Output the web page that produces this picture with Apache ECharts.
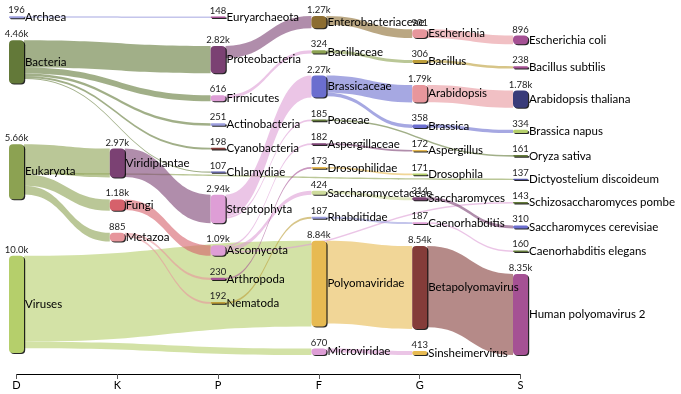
<!DOCTYPE html>
<html>
<head>
<meta charset="utf-8">
<script src="https://cdn.jsdelivr.net/npm/echarts@6/dist/echarts.min.js"></script>
<style>
html,body{margin:0;padding:0;background:#fff;}
#chart{width:681px;height:394px;}
</style>
</head>
<body>
<div id="chart"></div>
<script>
// ---- data ----
const ranks = ['D', 'K', 'P', 'F', 'G', 'S'];

const nodeNames = [
  'Archaea', 'Bacteria', 'Eukaryota', 'Viruses',
  'Fungi', 'Metazoa', 'Viridiplantae',
  'Euryarchaeota', 'Actinobacteria', 'Chlamydiae', 'Cyanobacteria', 'Firmicutes', 'Proteobacteria', 'Ascomycota', 'Arthropoda', 'Nematoda', 'Streptophyta',
  'Bacillaceae', 'Enterobacteriaceae', 'Aspergillaceae', 'Saccharomycetaceae', 'Drosophilidae', 'Rhabditidae', 'Brassicaceae', 'Poaceae', 'Microviridae', 'Polyomaviridae',
  'Bacillus', 'Escherichia', 'Aspergillus', 'Saccharomyces', 'Drosophila', 'Caenorhabditis', 'Arabidopsis', 'Brassica', 'Sinsheimervirus', 'Betapolyomavirus',
  'Bacillus subtilis', 'Escherichia coli', 'Dictyostelium discoideum', 'Saccharomyces cerevisiae', 'Schizosaccharomyces pombe', 'Caenorhabditis elegans', 'Arabidopsis thaliana', 'Brassica napus', 'Oryza sativa', 'Human polyomavirus 2'
];
const nodeRanks = [
  'D', 'D', 'D', 'D',
  'K', 'K', 'K',
  'P', 'P', 'P', 'P', 'P', 'P', 'P', 'P', 'P', 'P',
  'F', 'F', 'F', 'F', 'F', 'F', 'F', 'F', 'F', 'F',
  'G', 'G', 'G', 'G', 'G', 'G', 'G', 'G', 'G', 'G',
  'S', 'S', 'S', 'S', 'S', 'S', 'S', 'S', 'S', 'S'
];
const nodeValues = [
  196, 4460, 5660, 10000,
  1180, 885, 2970,
  148, 251, 107, 198, 616, 2820, 1090, 230, 192, 2940,
  324, 1270, 182, 424, 173, 187, 2270, 185, 670, 8840,
  306, 901, 172, 314, 171, 187, 1790, 358, 413, 8540,
  238, 896, 137, 310, 143, 160, 1780, 334, 161, 8350
];

const linkSources = [
  'Archaea', 'Bacteria', 'Bacteria', 'Bacteria', 'Bacteria', 'Bacteria',
  'Eukaryota', 'Eukaryota', 'Eukaryota', 'Eukaryota', 'Viruses', 'Viruses',
  'Fungi', 'Metazoa', 'Metazoa', 'Viridiplantae',
  'Firmicutes', 'Proteobacteria', 'Ascomycota', 'Ascomycota', 'Ascomycota', 'Arthropoda', 'Nematoda', 'Streptophyta', 'Streptophyta',
  'Bacillaceae', 'Enterobacteriaceae', 'Aspergillaceae', 'Saccharomycetaceae', 'Drosophilidae', 'Rhabditidae', 'Brassicaceae', 'Brassicaceae', 'Poaceae', 'Microviridae', 'Polyomaviridae',
  'Bacillus', 'Escherichia', 'Saccharomyces', 'Caenorhabditis', 'Arabidopsis', 'Brassica', 'Betapolyomavirus'
];
const linkTargets = [
  'Euryarchaeota', 'Actinobacteria', 'Chlamydiae', 'Cyanobacteria', 'Firmicutes', 'Proteobacteria',
  'Fungi', 'Metazoa', 'Viridiplantae', 'Dictyostelium discoideum', 'Microviridae', 'Polyomaviridae',
  'Ascomycota', 'Arthropoda', 'Nematoda', 'Streptophyta',
  'Bacillaceae', 'Enterobacteriaceae', 'Aspergillaceae', 'Saccharomycetaceae', 'Schizosaccharomyces pombe', 'Drosophilidae', 'Rhabditidae', 'Brassicaceae', 'Poaceae',
  'Bacillus', 'Escherichia', 'Aspergillus', 'Saccharomyces', 'Drosophila', 'Caenorhabditis', 'Arabidopsis', 'Brassica', 'Oryza sativa', 'Sinsheimervirus', 'Betapolyomavirus',
  'Bacillus subtilis', 'Escherichia coli', 'Saccharomyces cerevisiae', 'Caenorhabditis elegans', 'Arabidopsis thaliana', 'Brassica napus', 'Human polyomavirus 2'
];
const linkValues = [
  148, 251, 107, 198, 616, 2820,
  1180, 885, 2970, 137, 670, 8840,
  1090, 230, 192, 2940,
  324, 1270, 182, 424, 143, 173, 187, 2270, 185,
  306, 901, 172, 314, 171, 187, 1790, 358, 161, 413, 8540,
  238, 896, 310, 160, 1780, 334, 8350
];

// ---- styles ----
const colorOf = {
  'Archaea': '#9c9ede', 'Bacteria': '#637939', 'Eukaryota': '#8ca252', 'Viruses': '#b5cf6b',
  'Fungi': '#d6616b', 'Metazoa': '#e7969c', 'Viridiplantae': '#7b4173',
  'Euryarchaeota': '#a55194', 'Actinobacteria': '#9c9ede', 'Chlamydiae': '#5254a3', 'Cyanobacteria': '#843c39',
  'Firmicutes': '#de9ed6', 'Proteobacteria': '#7b4173', 'Ascomycota': '#de9ed6', 'Arthropoda': '#a55194',
  'Nematoda': '#bd9e39', 'Streptophyta': '#de9ed6',
  'Bacillaceae': '#8ca252', 'Enterobacteriaceae': '#8c6d31', 'Aspergillaceae': '#7b4173', 'Saccharomycetaceae': '#cedb9c',
  'Drosophilidae': '#e7ba52', 'Rhabditidae': '#9c9ede', 'Brassicaceae': '#6b6ecf', 'Poaceae': '#637939',
  'Microviridae': '#de9ed6', 'Polyomaviridae': '#e7ba52',
  'Bacillus': '#bd9e39', 'Escherichia': '#e7969c', 'Aspergillus': '#e7ba52', 'Saccharomyces': '#7b4173',
  'Drosophila': '#b5cf6b', 'Caenorhabditis': '#de9ed6', 'Arabidopsis': '#e7969c', 'Brassica': '#6b6ecf',
  'Sinsheimervirus': '#e7ba52', 'Betapolyomavirus': '#843c39',
  'Bacillus subtilis': '#a55194', 'Escherichia coli': '#a55194', 'Dictyostelium discoideum': '#5254a3',
  'Saccharomyces cerevisiae': '#6b6ecf', 'Schizosaccharomyces pombe': '#637939', 'Caenorhabditis elegans': '#637939',
  'Arabidopsis thaliana': '#393b79', 'Brassica napus': '#b5cf6b', 'Oryza sativa': '#637939', 'Human polyomavirus 2': '#a55194'
};

const FONT = 'Lato, "Open Sans", sans-serif';
const LEFT = 9, RIGHT = 153, TOP = 16, BOTTOM = 39, NODE_W = 15, GAP = 22;

function fmt(v) {
  return v >= 1000 ? (v / 1000).toPrecision(3) + 'k' : String(v);
}

function buildNodes(withStyle) {
  return nodeNames.map(function (n, i) {
    return {
      name: n,
      value: nodeValues[i],
      depth: ranks.indexOf(nodeRanks[i]),
      itemStyle: withStyle ? { color: colorOf[n] } : undefined
    };
  });
}
function buildLinks(withStyle) {
  return linkSources.map(function (s, i) {
    return {
      source: s,
      target: linkTargets[i],
      value: linkValues[i],
      lineStyle: withStyle ? { color: colorOf[s] } : undefined
    };
  });
}

const common = {
  type: 'sankey',
  left: LEFT, right: RIGHT, top: TOP, bottom: BOTTOM,
  nodeWidth: NODE_W,
  nodeGap: GAP,
  nodeAlign: 'left',
  layoutIterations: 32,
  draggable: false,
  emphasis: { disabled: true }
};

const chart = echarts.init(document.getElementById('chart'), null, { renderer: 'canvas' });
chart.setOption({
  animation: false,
  backgroundColor: '#fff',
  grid: {
    left: LEFT + NODE_W / 2,
    right: RIGHT + NODE_W / 2,
    bottom: 20,
    height: 1
  },
  xAxis: {
    type: 'category',
    data: ranks,
    boundaryGap: false,
    axisLine: { lineStyle: { color: '#000', width: 1 } },
    axisTick: { length: 5, lineStyle: { color: '#555' } },
    axisLabel: { color: '#000', fontSize: 11, fontFamily: FONT, margin: 6 },
    splitLine: { show: false }
  },
  yAxis: { type: 'value', show: false },
  series: [
    Object.assign({}, common, {
      data: buildNodes(true),
      links: buildLinks(true),
      itemStyle: {
        borderRadius: 4,
        borderWidth: 0,
        shadowColor: 'rgba(0,0,0,0.85)',
        shadowOffsetX: 1.2,
        shadowOffsetY: 1,
        shadowBlur: 0
      },
      lineStyle: { color: 'source', opacity: 0.6, curveness: 0.5 },
      label: {
        show: true,
        position: 'right',
        distance: 1,
        color: '#000',
        fontSize: 11.5,
        fontFamily: FONT
      }
    }),
    Object.assign({}, common, {
      silent: true,
      data: buildNodes(false),
      links: buildLinks(false),
      itemStyle: { color: 'rgba(0,0,0,0)', borderWidth: 0 },
      lineStyle: { opacity: 0 },
      label: {
        show: true,
        position: 'top',
        distance: 1,
        color: '#222',
        fontSize: 9.5,
        fontFamily: FONT,
        formatter: function (p) { return fmt(p.value); }
      }
    })
  ]
});
</script>
</body>
</html>
